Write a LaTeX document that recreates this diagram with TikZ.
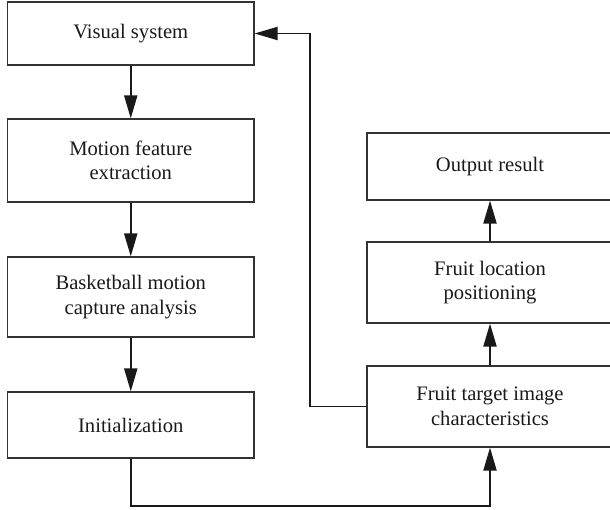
\documentclass[tikz,border=0pt]{standalone}
\usepackage{fontspec}
\setmainfont{Liberation Serif}
\usetikzlibrary{arrows.meta}
\begin{document}
\begin{tikzpicture}[x=1pt,y=-1pt,
  box/.style={draw=black!80,line width=1.1pt,inner sep=0pt,align=center,
    font=\fontsize{20.6}{24.5}\selectfont,text=black!90},
  conn/.style={line width=1.9pt,draw=black!90,-{Triangle[length=23pt,width=13pt]}}]
\useasboundingbox (0,0) rectangle (610,509);
\node[box,minimum width=246.5pt,minimum height=63pt] (b1) at (130.75,33.5) {Visual system};
\node[box,minimum width=246.5pt,minimum height=83pt] (b2) at (130.75,160.5) {Motion feature\\extraction};
\node[box,minimum width=246.5pt,minimum height=80pt] (b3) at (130.75,297) {Basketball motion\\capture analysis};
\node[box,minimum width=246.5pt,minimum height=66pt] (b4) at (130.75,425) {Initialization};
\node[box,minimum width=246pt,minimum height=67pt] (r1) at (490,166.5) {Output result};
\node[box,minimum width=246pt,minimum height=81pt] (r2) at (490,282.5) {Fruit location\\positioning};
\node[box,minimum width=246pt,minimum height=81pt] (r3) at (490,406.5) {Fruit target image\\characteristics};
\draw[conn] (b1) -- (b2);
\draw[conn] (b2) -- (b3);
\draw[conn] (b3) -- (b4);
\draw[conn] (r3) -- (r2);
\draw[conn] (r2) -- (r1);
\coordinate (f1) at (310,406.5);
\coordinate (f2) at (310,33.5);
\draw[conn] (r3.west) -- (f1) -- (f2) -- (b1.east);
\coordinate (g1) at (130.75,506);
\coordinate (g2) at (490,506);
\draw[conn] (b4.south) -- (g1) -- (g2) -- (r3.south);
\end{tikzpicture}
\end{document}
